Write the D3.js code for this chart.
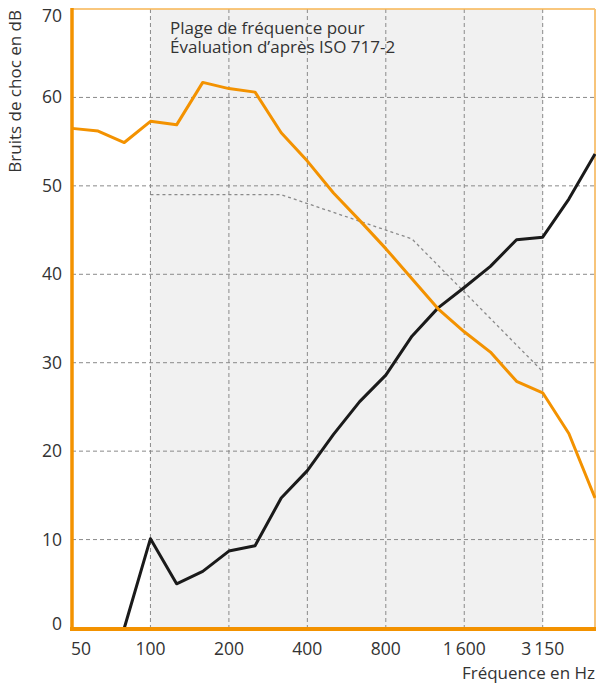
<!DOCTYPE html>
<html lang="fr">
<head>
<meta charset="UTF-8">
<title>Bruits de choc</title>
<script src="https://cdn.jsdelivr.net/npm/d3@7"></script>
<style>
  body { margin: 0; background: #fff; }
  text { font-family: "Open Sans", "Noto Sans", sans-serif; fill: #333; }
</style>
</head>
<body>
<script>
    // third-octave bands 50 Hz .. 5000 Hz
    var bands = [50, 63, 80, 100, 125, 160, 200, 250, 315, 400, 500, 630, 800,
        1000, 1250, 1600, 2000, 2500, 3150, 4000, 5000];
    var tickBands = [50, 100, 200, 400, 800, 1600, 3150];
    var tickLabels = ["50", "100", "200", "400", "800", "1\u2009600", "3\u2009150"];
    var yTicks = [0, 10, 20, 30, 40, 50, 60, 70];

    // measured curves (dB)
    var orangeValues = [56.5, 56.2, 54.9, 57.3, 56.9, 61.7, 61.0, 60.6, 56.0, 52.8, 49.2,
        46.1, 42.9, 39.5, 36.1, 33.5, 31.2, 27.9, 26.6, 22.0, 14.7];
    var blackValues = [null, null, 0, 10.1, 5.0, 6.4, 8.7, 9.3, 14.7, 17.8, 21.9,
        25.6, 28.6, 33.0, 36.2, 38.5, 40.9, 43.9, 44.2, 48.5, 53.6];
    // shifted ISO 717-2 reference curve, 100 .. 3150 Hz
    var refValues = [null, null, null, 49, 49, 49, 49, 49, 49, 48, 47,
        46, 45, 44, 41, 38, 35, 32, 29, null, null];

    var width = 596, height = 684;
    var plotLeft = 72, plotRight = 595, plotTop = 9, plotBottom = 628;

    var svg = d3.select("body").append("svg")
        .attr("width", width)
        .attr("height", height);

    var x = d3.scalePoint()
        .domain(bands)
        .range([plotLeft, plotRight]);

    var y = d3.scaleLinear()
        .domain([0, 70])
        .range([plotBottom, plotTop]);

    // shaded evaluation range
    svg.append("rect")
        .attr("x", x(100))
        .attr("y", y(70))
        .attr("width", x(3150) - x(100))
        .attr("height", y(0) - y(70))
        .attr("fill", "#f1f1f1");

    // grid
    svg.append("g").selectAll("line")
        .data(yTicks.filter(function (d) { return d > 0 && d < 70; }))
        .enter().append("line")
        .attr("x1", plotLeft).attr("x2", plotRight)
        .attr("y1", function (d) { return y(d); })
        .attr("y2", function (d) { return y(d); })
        .attr("stroke", "#8a8a8a")
        .attr("stroke-width", 1)
        .attr("stroke-dasharray", "4,3");

    svg.append("g").selectAll("line")
        .data(tickBands.slice(1))
        .enter().append("line")
        .attr("x1", function (d) { return x(d); })
        .attr("x2", function (d) { return x(d); })
        .attr("y1", y(70)).attr("y2", y(0))
        .attr("stroke", "#8a8a8a")
        .attr("stroke-width", 1)
        .attr("stroke-dasharray", "4,3");

    // frame
    svg.append("line")
        .attr("x1", plotLeft).attr("x2", plotRight)
        .attr("y1", y(70)).attr("y2", y(70))
        .attr("stroke", "#f7b552").attr("stroke-width", 1.5);
    svg.append("line")
        .attr("x1", plotRight).attr("x2", plotRight)
        .attr("y1", y(70)).attr("y2", y(0))
        .attr("stroke", "#f7c47a").attr("stroke-width", 2);

    var line = d3.line()
        .defined(function (d) { return d[1] != null; })
        .x(function (d) { return x(d[0]); })
        .y(function (d) { return y(d[1]); });

    svg.append("path")
        .attr("d", line(d3.zip(bands, refValues)))
        .attr("fill", "none")
        .attr("stroke", "#8a8a8a")
        .attr("stroke-width", 1.3)
        .attr("stroke-dasharray", "3,3");

    svg.append("path")
        .attr("d", line(d3.zip(bands, blackValues)))
        .attr("fill", "none")
        .attr("stroke", "#1a1a1a")
        .attr("stroke-width", 3)
        .attr("stroke-linejoin", "round");

    svg.append("path")
        .attr("d", line(d3.zip(bands, orangeValues)))
        .attr("fill", "none")
        .attr("stroke", "#f39200")
        .attr("stroke-width", 3)
        .attr("stroke-linejoin", "round");

    // left and bottom axis lines
    svg.append("line")
        .attr("x1", plotLeft).attr("x2", plotLeft)
        .attr("y1", y(70) - 1).attr("y2", y(0) + 3)
        .attr("stroke", "#f39200").attr("stroke-width", 3.5);
    svg.append("line")
        .attr("x1", plotLeft - 2).attr("x2", plotRight + 1)
        .attr("y1", y(0) + 1).attr("y2", y(0) + 1)
        .attr("stroke", "#f39200").attr("stroke-width", 4);

    // y tick labels
    svg.append("g").selectAll("text")
        .data(yTicks)
        .enter().append("text")
        .attr("x", 62)
        .attr("y", function (d) { return y(d) + (d === 70 ? 13 : d === 0 ? 2 : 6); })
        .attr("text-anchor", "end")
        .attr("font-size", 17.5)
        .text(function (d) { return d; });

    // x tick labels
    svg.append("g").selectAll("text")
        .data(tickBands)
        .enter().append("text")
        .attr("x", function (d) { return d === 50 ? x(d) + 9 : x(d); })
        .attr("y", 655)
        .attr("text-anchor", "middle")
        .attr("font-size", 17.5)
        .text(function (d, i) { return tickLabels[i]; });

    // axis titles
    svg.append("text")
        .attr("x", 595)
        .attr("y", 679)
        .attr("text-anchor", "end")
        .attr("font-size", 17)
        .text("Fréquence en Hz");

    svg.append("text")
        .attr("transform", "translate(21,10) rotate(-90)")
        .attr("text-anchor", "end")
        .attr("font-size", 17)
        .text("Bruits de choc en dB");

    // annotation
    var note = svg.append("text")
        .attr("x", 170)
        .attr("font-size", 17);
    note.append("tspan").attr("x", 170).attr("y", 34).text("Plage de fréquence pour");
    note.append("tspan").attr("x", 170).attr("y", 53).text("Évaluation d’après ISO 717-2");
</script>
</body>
</html>
